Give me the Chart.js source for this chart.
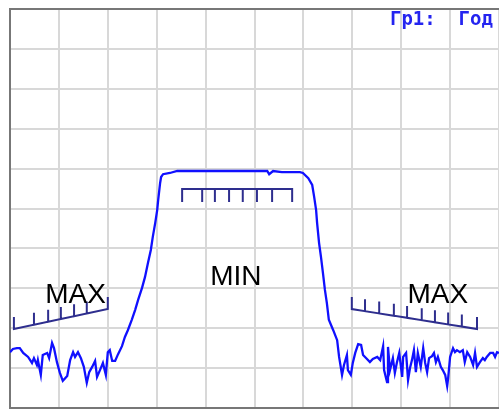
<!DOCTYPE html>
<html>
<head>
<meta charset="utf-8">
<script src="https://cdn.jsdelivr.net/npm/chart.js@4"></script>
<style>
html,body{margin:0;padding:0;background:#fff;}
#wrap{width:499px;height:410px;position:relative;overflow:hidden;}
</style>
</head>
<body>
<div id="wrap"><canvas id="c" width="499" height="410"></canvas></div>
<script>
// ---- data (x: 0..100 = 10 divisions, y: 0..100 = 10 divisions) ----
const freqX = [0,0.6,1.4,2.0,2.7,3.7,4.5,4.9,5.5,5.7,6.3,6.7,7.6,8.0,8.6,9.0,9.6,10.2,10.8,11.7,12.3,12.9,13.3,13.9,14.5,15.1,15.7,16.2,16.8,17.4,17.8,18.4,19.0,19.6,20.0,20.4,20.9,21.5,22.1,22.9,23.5,24.1,24.9,25.6,26.2,27.0,27.6,28.2,28.8,29.2,29.7,30.1,30.3,30.7,30.9,31.3,32.7,34.2,52.6,53.0,53.8,55.6,59.3,59.9,61.0,61.8,62.2,62.6,62.8,63.2,63.6,64.0,64.4,64.8,65.2,66.1,66.9,67.3,67.9,68.3,68.9,69.1,69.7,70.1,70.6,71.2,71.8,72.2,73.0,73.6,74.2,75.1,75.7,76.3,76.5,77.1,77.3,77.7,78.3,78.7,79.1,79.6,80.2,80.4,81.0,81.4,81.8,82.2,82.6,83.0,83.4,84.0,84.5,84.9,85.3,85.7,86.3,86.7,87.1,87.5,88.1,88.5,89.0,89.4,89.6,90.0,90.6,91.0,91.4,92.0,92.6,93.0,93.5,94.1,94.7,95.1,95.5,96.1,96.7,97.1,97.5,98.2,98.8,99.2,99.6,100.0];
const levelY = [14.0,14.8,15.0,15.0,13.8,12.8,11.3,12.5,10.8,12.0,8.3,13.3,13.8,12.5,16.3,15.0,11.5,8.8,6.8,8.0,12.0,14.0,12.8,14.0,12.5,10.3,6.3,9.0,10.3,11.8,7.8,9.5,11.3,8.3,14.0,14.5,11.8,11.8,13.5,15.5,17.8,19.5,22.1,24.6,27.1,30.1,32.8,36.3,39.6,42.9,46.4,49.6,52.1,56.4,57.9,58.6,58.9,59.4,59.4,58.6,59.4,59.1,59.1,58.9,57.6,55.9,52.9,49.6,46.4,41.4,37.8,33.8,29.6,26.3,22.1,19.5,17.0,12.8,8.3,10.8,13.3,9.5,8.3,11.3,13.8,16.0,15.8,13.3,12.3,11.5,12.3,12.8,12.0,15.5,9.5,6.5,15.3,9.5,12.5,8.8,11.3,13.8,7.8,12.8,13.8,7.0,10.0,12.0,14.5,9.0,13.8,10.3,15.0,11.3,9.0,12.5,13.0,13.8,11.5,12.8,10.3,9.5,8.3,5.5,7.5,12.8,15.0,14.0,14.5,14.0,14.5,11.5,14.0,12.8,10.8,13.8,10.3,11.5,12.5,12.0,12.8,13.8,13.8,12.8,14.0,13.8];

// limit brackets: tick x positions and line level at first/last tick
const leftMaxTicks  = [0.8, 4.9, 7.8, 10.4, 13.1, 15.7, 20.0];
const leftMaxLine   = [19.8, 24.8];
const minTicks      = [35.2, 39.3, 41.9, 44.8, 47.6, 50.5, 53.6, 57.7];
const minLine       = [54.9, 54.9];
const rightMaxTicks = [69.9, 72.6, 75.5, 78.5, 81.2, 84.2, 86.9, 89.6, 92.4, 95.5];
const rightMaxLine  = [24.8, 19.8];

const labelText = ['MAX', 'MIN', 'MAX'];
const labelX    = [13.4, 46.2, 87.5];
const labelY    = [26.3, 30.8, 26.3];

const headerText = 'Гр1:  Год';

// ---- build ----
const trace = freqX.map((x, i) => ({x, y: levelY[i]}));

function bracket(ticks, line, tickLen) {
  const x0 = ticks[0], x1 = ticks[ticks.length - 1];
  const yAt = x => line[0] + (x - x0) / (x1 - x0) * (line[1] - line[0]);
  const pts = [];
  ticks.forEach((x, i) => {
    const y = yAt(x);
    if (i === 0) { pts.push({x, y: y + tickLen}); pts.push({x, y}); }
    else if (i === ticks.length - 1) { pts.push({x, y}); pts.push({x, y: y + tickLen}); }
    else { pts.push({x, y}); pts.push({x, y: y + tickLen}); pts.push({x, y}); }
  });
  return pts;
}

const navy = '#2e2e8e';
const bracketStyle = {borderColor: navy, borderWidth: 2, pointRadius: 0, tension: 0, fill: false};

const overlay = {
  id: 'overlay',
  beforeDatasetsDraw(chart) {
    const {ctx, chartArea: a} = chart;
    ctx.save();
    ctx.strokeStyle = '#777';
    ctx.lineWidth = 2;
    ctx.beginPath();
    ctx.moveTo(a.left - 1, a.top);
    ctx.lineTo(a.right, a.top);
    ctx.stroke();
    ctx.restore();
  },
  afterDatasetsDraw(chart) {
    const {ctx, scales: {x, y}, chartArea: a} = chart;
    ctx.save();
    ctx.fillStyle = '#000';
    ctx.font = '28px "Liberation Sans", Arial, sans-serif';
    ctx.textAlign = 'center';
    ctx.textBaseline = 'alphabetic';
    labelText.forEach((t, i) => {
      ctx.fillText(t, x.getPixelForValue(labelX[i]), y.getPixelForValue(labelY[i]));
    });
    ctx.fillStyle = '#2424f0';
    ctx.font = 'bold 19px "DejaVu Sans Mono", monospace';
    ctx.textAlign = 'left';
    ctx.fillText(headerText, x.getPixelForValue(77.7), a.top + 16);
    ctx.restore();
  }
};

new Chart(document.getElementById('c'), {
  type: 'line',
  data: {
    datasets: [
      {data: trace, borderColor: '#1010ff', borderWidth: 2.3, pointRadius: 0, tension: 0, fill: false},
      Object.assign({data: bracket(leftMaxTicks, leftMaxLine, 3.0)}, bracketStyle),
      Object.assign({data: bracket(minTicks, minLine, -3.3)}, bracketStyle),
      Object.assign({data: bracket(rightMaxTicks, rightMaxLine, 3.0)}, bracketStyle)
    ]
  },
  options: {
    responsive: false,
    devicePixelRatio: 1,
    animation: false,
    layout: {padding: {left: 10, top: 9, right: 0, bottom: 2}},
    plugins: {legend: {display: false}, tooltip: {enabled: false}, title: {display: false}},
    scales: {
      x: {
        type: 'linear', min: 0, max: 100,
        ticks: {display: false, stepSize: 10},
        grid: {color: '#d8d8d8', lineWidth: 2, drawTicks: false},
        border: {display: true, color: '#777', width: 2}
      },
      y: {
        type: 'linear', min: 0, max: 100,
        ticks: {display: false, stepSize: 10},
        grid: {color: '#d8d8d8', lineWidth: 2, drawTicks: false},
        border: {display: true, color: '#777', width: 2}
      }
    }
  },
  plugins: [overlay]
});
</script>
</body>
</html>
